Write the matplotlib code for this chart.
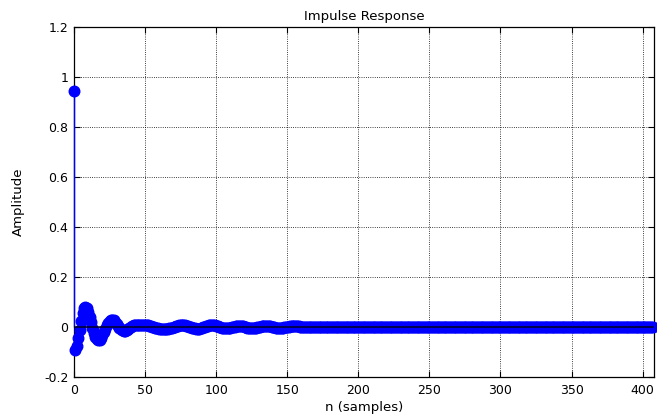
import numpy as np
import matplotlib
matplotlib.use("Agg")
import matplotlib.pyplot as plt

# respuesta al impulso h[n], muestras 0..169 (el resto queda en cero)
h_inicio = [
    0.945, -0.090, -0.075, -0.045, -0.010, 0.025, 0.055, 0.075, 0.081, 0.076,
    0.062, 0.042, 0.020, -0.002, -0.022, -0.038, -0.048, -0.052, -0.050, -0.043,
    -0.032, -0.019, -0.006, 0.007, 0.018, 0.026, 0.030, 0.030, 0.027, 0.021,
    0.013, 0.005, -0.003, -0.009, -0.013, -0.015, -0.015, -0.013, -0.009, -0.005,
    0.000, 0.004, 0.007, 0.009, 0.010, 0.010, 0.009, 0.008, 0.008, 0.008,
    0.008, 0.008, 0.007, 0.006, 0.004, 0.002, 0.000, -0.002, -0.004, -0.005,
    -0.006, -0.007, -0.007, -0.007, -0.007, -0.007, -0.006, -0.005, -0.004, -0.002,
    0.000, 0.002, 0.004, 0.006, 0.007, 0.008, 0.008, 0.008, 0.007, 0.006,
    0.004, 0.002, 0.000, -0.002, -0.004, -0.005, -0.006, -0.006, -0.006, -0.005,
    -0.003, -0.001, 0.001, 0.003, 0.005, 0.007, 0.008, 0.008, 0.008, 0.007,
    0.005, 0.003, 0.001, -0.001, -0.003, -0.004, -0.005, -0.005, -0.005, -0.004,
    -0.003, -0.001, 0.001, 0.002, 0.004, 0.005, 0.005, 0.005, 0.004, 0.003,
    0.001, 0.000, -0.002, -0.003, -0.004, -0.004, -0.004, -0.003, -0.002, -0.001,
    0.001, 0.002, 0.003, 0.004, 0.005, 0.005, 0.005, 0.004, 0.003, 0.002,
    0.000, -0.001, -0.002, -0.003, -0.003, -0.003, -0.003, -0.002, -0.001, 0.000,
    0.001, 0.002, 0.003, 0.004, 0.004, 0.004, 0.004, 0.004, 0.003, 0.002,
    0.001, 0.000, -0.001, -0.001, -0.001, 0.000, 0.000, 0.000, 0.000, 0.000,
]
h_cola = [0.0] * 238
h = np.array(h_inicio + h_cola)
n = np.arange(len(h))

xticks = [0, 50, 100, 150, 200, 250, 300, 350, 400]
yticks = [-0.2, 0, 0.2, 0.4, 0.6, 0.8, 1, 1.2]
ytick_labels = ['-0.2', '0', '0.2', '0.4', '0.6', '0.8', '1', '1.2']

fig = plt.figure(figsize=(6.57, 4.18), dpi=100)
ax = fig.add_axes([74 / 657, 1 - 377 / 418, 580 / 657, 350 / 418])

markerline, stemlines, baseline = ax.stem(n, h, linefmt='b-', markerfmt='bo', basefmt='k-')
markerline.set_markersize(7.6)
markerline.set_markerfacecolor('#0000ff')
markerline.set_markeredgecolor('#0000ff')
markerline.set_clip_on(False)
markerline.set_zorder(2.6)
stemlines.set_color('#0000ff')
stemlines.set_linewidth(1.0)
stemlines.set_clip_on(False)
stemlines.set_zorder(2.7)
baseline.set_color('#000022')
baseline.set_linewidth(1.1)
baseline.set_zorder(2.8)

ax.set_xlim(0, 408)
ax.set_ylim(-0.2, 1.2)
ax.set_xticks(xticks)
ax.set_yticks(yticks)
ax.set_yticklabels(ytick_labels)
ax.grid(True, color='black', linestyle=':', linewidth=0.6)
ax.set_axisbelow(True)
ax.tick_params(direction='in', top=True, right=True, length=4, width=0.8,
               labelsize=9, colors='black')
ax.tick_params(axis='x', pad=5)
ax.tick_params(axis='y', pad=4)
for sp in ax.spines.values():
    sp.set_linewidth(0.9)

ax.set_title('Impulse Response', fontsize=9.5, pad=5)
ax.set_xlabel('n (samples)', fontsize=9.5, labelpad=3)
ax.set_ylabel('Amplitude', fontsize=9.5, labelpad=14)

fig.savefig('out.png', dpi=100)
